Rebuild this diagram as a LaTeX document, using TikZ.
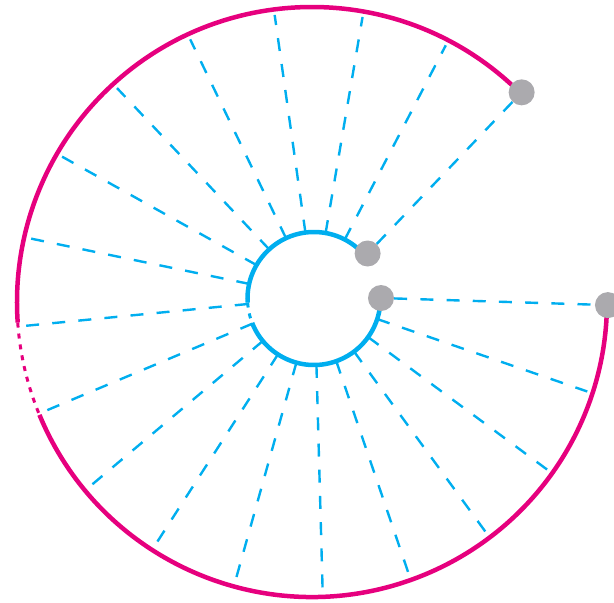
\documentclass[tikz,border=0pt]{standalone}
\usetikzlibrary{calc}

\definecolor{rimpink}{HTML}{E6007E}
\definecolor{hubblue}{HTML}{00AEEF}
\definecolor{knobgray}{HTML}{ABAAAE}

\begin{document}
\begin{tikzpicture}[x=1pt,y=1pt,
		rimline/.style={draw=rimpink,line width=4.5pt},
		hubline/.style={draw=hubblue,line width=4.5pt},
		faint/.style={line width=3pt,dash pattern=on 5pt off 6pt},
		spoke/.style={draw=hubblue,line width=2.4pt,dash pattern=on 13pt off 13.2pt},
		knob/.style={circle,fill=knobgray,inner sep=0pt,minimum size=26pt}]
			
			\useasboundingbox (-312,-301) rectangle (302,302);
			\coordinate (hubc) at (2,3.5);
			
			% outer rim, with a broken piece on the left
			\draw[rimline] (45:295) arc[start angle=45,end angle=184,radius=295];
			\draw[rimline,faint] (184:295) arc[start angle=184,end angle=202.5,radius=295];
			\draw[rimline] (202.5:295) arc[start angle=202.5,end angle=359.4,radius=295];
			
			% inner hub, broken at the same place
			\draw[hubline] ($(hubc)+(41:66.5)$) arc[start angle=41,end angle=183.5,radius=66.5];
			\draw[hubline,faint] ($(hubc)+(183.5:66.5)$) arc[start angle=183.5,end angle=201.5,radius=66.5];
			\draw[hubline] ($(hubc)+(201.5:66.5)$) arc[start angle=201.5,end angle=360.4,radius=66.5];
			
			% spokes from hub to rim
			\foreach \k in {1,...,17}{
				\pgfmathsetmacro{\ang}{45+17.47*\k}
				\coordinate (in\k) at ($(hubc)+(\ang:66.5)$);
				\coordinate (out\k) at (\ang:289.5);
				\draw[spoke] (in\k) -- (out\k);
			}
			
			% end knobs
			\node[knob] (rimA) at (45:296.5) {};
			\node[knob] (rimB) at (-0.6:296) {};
			\node[knob] (hubA) at ($(hubc)+(40:70)$) {};
			\node[knob] (hubB) at ($(hubc)+(0.4:67)$) {};
			
			% the two closing spokes
			\draw[spoke] (hubA) -- (rimA);
			\draw[spoke] (hubB) -- (rimB);
			
		\end{tikzpicture}
\end{document}
